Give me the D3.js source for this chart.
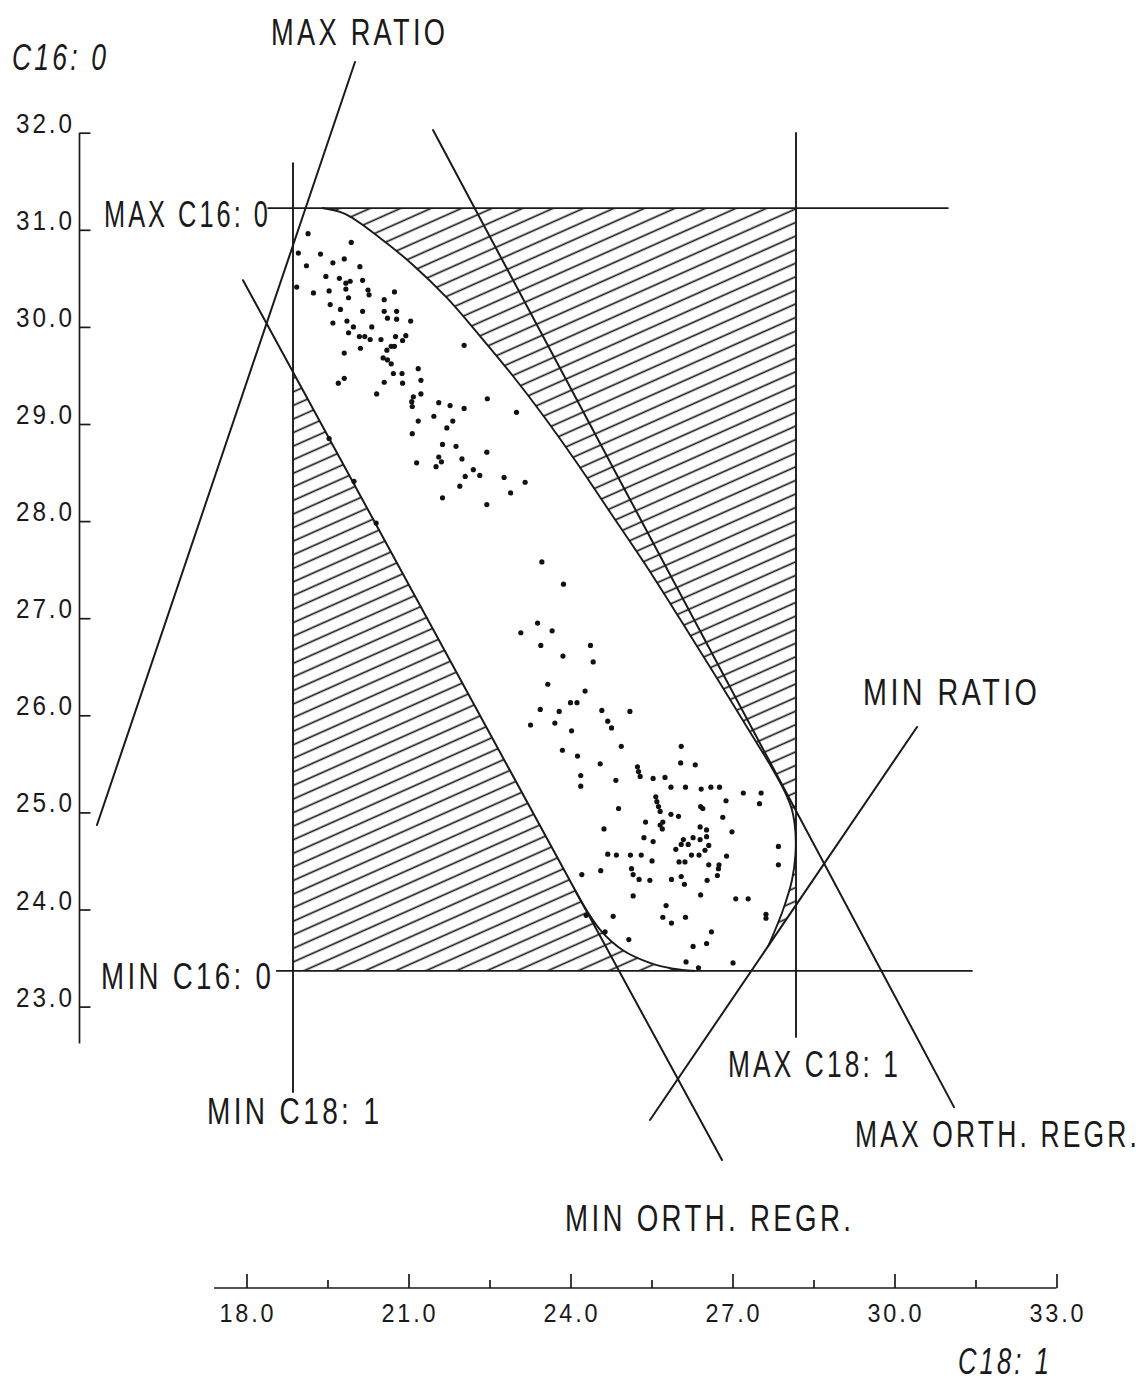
<!DOCTYPE html>
<html><head><meta charset="utf-8">
<script src="https://cdn.jsdelivr.net/npm/d3@7"></script>
<style>html,body{margin:0;padding:0;background:#fff;} svg{display:block}</style>
</head><body><svg id="chart" width="1144" height="1384"></svg>
<script>
// ---------------- DATA ----------------
const C18_TICKS = [18, 19.5, 21, 22.5, 24, 25.5, 27, 28.5, 30, 31.5, 33];
const C18_LABELS = [18, 21, 24, 27, 30, 33];
const C16_TICKS = [32, 31, 30, 29, 28, 27, 26, 25, 24, 23];

const MIN_C18 = 18.861, MAX_C18 = 28.176;
const MIN_C16 = 23.367, MAX_C16 = 31.224;

const maxRatioLine = [[15.231, 24.870], [20.009, 32.728]];
const minRatioLine = [[25.472, 21.832], [30.417, 25.880]];
const maxOrthLine  = [[21.454, 32.027], [31.102, 21.965]];
const minOrthLine  = [[17.935, 30.481], [26.806, 21.420]];

const upperBoundary = [[19.398,31.224],[19.824,31.163],[20.472,30.916],[21.083,30.638],[21.713,30.298],[22.324,29.906],[22.935,29.494],[23.528,29.062],[24.120,28.598],[24.731,28.094],[25.380,27.558],[26.028,26.992],[26.676,26.415],[27.324,25.828],[27.731,25.457],[27.972,25.210],[28.102,25.025],[28.165,24.798],[28.165,24.561],[28.102,24.304],[27.935,23.995],[27.660,23.620]];
const lowerBoundary = [[24.10,24.18],[24.55,23.79],[24.97,23.58],[25.47,23.45],[25.90,23.39],[26.31,23.367]];

const upperCluster = [[19.14,30.96],[19.94,30.87],[18.96,30.76],[19.37,30.75],[19.11,30.63],[19.60,30.66],[19.81,30.70],[20.10,30.62],[18.93,30.41],[19.47,30.52],[19.72,30.50],[19.84,30.45],[19.92,30.47],[20.15,30.48],[19.84,30.39],[19.24,30.35],[19.53,30.37],[20.25,30.38],[20.27,30.33],[19.89,30.30],[20.74,30.36],[20.55,30.28],[19.55,30.23],[19.74,30.18],[20.15,30.16],[20.55,30.16],[20.78,30.16],[20.61,30.09],[20.78,30.08],[21.04,30.06],[19.60,30.04],[19.86,30.06],[19.98,30.00],[19.89,29.94],[20.32,30.00],[20.09,29.90],[20.19,29.90],[20.29,29.87],[20.49,29.87],[20.76,29.90],[20.95,29.91],[20.89,29.86],[20.11,29.78],[20.60,29.76],[20.68,29.80],[20.74,29.80],[19.81,29.73],[20.53,29.68],[20.61,29.66],[20.68,29.62],[22.03,29.81],[21.18,29.57],[20.72,29.52],[20.88,29.52],[21.23,29.45],[19.81,29.47],[19.70,29.42],[20.55,29.43],[20.89,29.42],[20.41,29.31],[21.09,29.28],[21.23,29.31],[21.06,29.23],[21.07,29.18],[21.56,29.22],[21.77,29.19],[22.03,29.16],[22.46,29.26],[21.47,29.08],[21.82,29.03],[21.18,29.03],[23.00,29.12],[21.71,28.96],[21.07,28.90],[21.63,28.79],[21.88,28.77],[22.45,28.71],[21.56,28.66],[21.99,28.64],[21.15,28.60],[21.61,28.61],[21.51,28.56],[22.20,28.53],[22.32,28.47],[22.05,28.46],[22.77,28.45],[23.16,28.40],[21.95,28.36],[22.89,28.29],[21.63,28.24],[22.45,28.17],[19.53,28.85],[19.99,28.41],[20.40,27.98]];

const lowerCluster = [[23.47,27.58],[23.87,27.35],[23.39,26.95],[23.08,26.85],[23.66,26.87],[23.45,26.72],[24.37,26.72],[23.86,26.61],[24.42,26.55],[23.58,26.32],[24.27,26.25],[24.00,26.13],[24.12,26.13],[23.44,26.06],[23.79,26.04],[24.58,26.05],[25.10,26.04],[24.69,25.94],[24.76,25.87],[23.26,25.90],[23.71,25.92],[24.02,25.84],[24.94,25.68],[23.85,25.64],[24.13,25.58],[26.05,25.68],[26.04,25.51],[26.31,25.49],[24.55,25.50],[25.24,25.47],[25.26,25.42],[25.29,25.37],[25.53,25.35],[25.75,25.36],[24.19,25.38],[24.19,25.27],[24.84,25.33],[25.86,25.26],[26.13,25.26],[26.42,25.24],[26.60,25.26],[26.76,25.26],[27.20,25.20],[27.53,25.20],[25.58,25.16],[25.60,25.11],[26.88,25.12],[27.50,25.09],[24.89,25.04],[25.63,25.06],[26.41,25.06],[26.45,25.04],[25.66,25.01],[25.86,24.98],[26.00,24.96],[26.82,24.95],[25.39,24.90],[25.71,24.90],[25.66,24.87],[25.70,24.83],[24.62,24.83],[26.40,24.85],[26.52,24.82],[26.99,24.80],[25.36,24.74],[26.52,24.75],[26.27,24.74],[26.09,24.72],[26.05,24.67],[26.18,24.67],[26.40,24.72],[25.53,24.70],[25.95,24.62],[26.56,24.66],[26.49,24.61],[27.85,24.65],[24.69,24.57],[24.85,24.56],[25.11,24.56],[25.31,24.56],[26.24,24.56],[26.38,24.56],[26.89,24.55],[25.51,24.50],[26.01,24.49],[26.12,24.49],[26.56,24.46],[26.75,24.46],[27.85,24.46],[26.74,24.42],[25.13,24.42],[25.16,24.36],[24.21,24.36],[24.56,24.40],[25.27,24.31],[25.47,24.30],[25.87,24.31],[26.05,24.34],[26.11,24.26],[26.53,24.30],[26.72,24.35],[25.16,24.14],[26.41,24.15],[27.06,24.11],[27.29,24.11],[25.77,24.04],[25.71,23.92],[25.87,23.86],[26.13,23.92],[24.79,23.93],[27.62,23.95],[27.62,23.91],[26.61,23.77],[26.52,23.65],[26.27,23.62],[25.08,23.69],[24.64,23.77],[24.29,23.94],[26.14,23.46],[26.37,23.40],[27.01,23.45]];

// ---------------- SETUP ----------------
const svg = d3.select("#chart");
const INK = "#1a1a1a";
const FONT = "'Liberation Sans','DejaVu Sans',Arial,sans-serif";
const CAP = 0.716;

const x = d3.scaleLinear().domain([18, 33]).range([246.5, 1056.5]);
const y = d3.scaleLinear().domain([23, 32]).range([1006.6, 132.7]);

// text fitted to a given cap height and width (narrow, tall plotter lettering)
function txt(s, x0, base, cap, width, opts = {}) {
  const t = svg.append("text").text(s).attr("x", 0).attr("y", 0)
    .attr("font-family", FONT).attr("font-size", 20).attr("fill", INK)
    .attr("letter-spacing", 2.4);
  if (opts.italic) t.attr("font-style", "italic");
  const w0 = t.node().getComputedTextLength() - 2.4;
  const k = width / w0;
  t.attr("font-size", 20 * k).attr("letter-spacing", 2.4 * k);
  const sy = cap / (20 * k * CAP);
  let tx = x0;
  if (opts.anchor === "end") tx = x0 - width;
  if (opts.anchor === "middle") tx = x0 - width / 2;
  t.attr("transform", `translate(${tx},${base}) scale(1,${sy})`);
  return t;
}
function lineAtX(l, xv) { const [a, b] = l; return a[1] + (xv - a[0]) * (b[1] - a[1]) / (b[0] - a[0]); }
function lineAtY(l, yv) { const [a, b] = l; return a[0] + (yv - a[1]) * (b[0] - a[0]) / (b[1] - a[1]); }

const defs = svg.append("defs");
const pat = defs.append("pattern").attr("id", "hatch").attr("patternUnits", "userSpaceOnUse")
  .attr("width", 40).attr("height", 12.4).attr("patternTransform", "rotate(-24)");
pat.append("line").attr("x1", 0).attr("x2", 40).attr("y1", 6).attr("y2", 6)
  .attr("stroke", INK).attr("stroke-width", 1.6);

// feasible polygon (box within ratio limits)
const feasible = [
  [lineAtY(maxRatioLine, MAX_C16), MAX_C16],
  [MAX_C18, MAX_C16],
  [MAX_C18, lineAtX(minRatioLine, MAX_C18)],
  [lineAtY(minRatioLine, MIN_C16), MIN_C16],
  [MIN_C18, MIN_C16],
  [MIN_C18, lineAtX(maxRatioLine, MIN_C18)]
];
defs.append("clipPath").attr("id", "feas").append("polygon")
  .attr("points", feasible.map(d => [x(d[0]), y(d[1])].join(",")).join(" "));

svg.append("rect").attr("x", x(MIN_C18)).attr("y", y(MAX_C16))
  .attr("width", x(MAX_C18) - x(MIN_C18)).attr("height", y(MIN_C16) - y(MAX_C16))
  .attr("fill", "url(#hatch)").attr("clip-path", "url(#feas)");

// white (unhatched) region
const curveGen = d3.line().x(d => x(d[0])).y(d => y(d[1])).curve(d3.curveCatmullRom.alpha(0.5));
const ue = upperBoundary[upperBoundary.length - 1];
const le = lowerBoundary[lowerBoundary.length - 1];
const dFill = `M${x(MIN_C18 - 1)},${y(MAX_C16 + 1)}L${x(upperBoundary[0][0])},${y(MAX_C16 + 1)}`
  + curveGen(upperBoundary).replace(/^M/, "L")
  + `L${x(ue[0])},${y(MIN_C16 - 1)}L${x(le[0])},${y(MIN_C16 - 1)}`
  + curveGen(lowerBoundary.slice().reverse()).replace(/^M/, "L")
  + `L${x(minOrthLine[0][0])},${y(minOrthLine[0][1])}Z`;
svg.append("path").attr("d", dFill).attr("fill", "#fff");

// boundary curves
[upperBoundary, lowerBoundary].forEach(b => {
  svg.append("path").attr("d", curveGen(b)).attr("fill", "none")
    .attr("stroke", INK).attr("stroke-width", 1.9);
});

// box lines
const seg = (a, b, w) => svg.append("line").attr("x1", x(a[0])).attr("y1", y(a[1]))
  .attr("x2", x(b[0])).attr("y2", y(b[1])).attr("stroke", INK).attr("stroke-width", w)
  .attr("stroke-linecap", "round");
seg([MIN_C18, 31.687], [MIN_C18, 22.12], 1.9);
seg([MAX_C18, 31.997], [MAX_C18, 22.687], 1.9);
seg([18.40, MAX_C16], [30.99, MAX_C16], 1.7);
seg([18.56, MIN_C16], [31.435, MIN_C16], 1.7);

// limit lines
[maxRatioLine, minRatioLine, maxOrthLine, minOrthLine].forEach(l => seg(l[0], l[1], 2));

// points
svg.append("g").selectAll("circle").data(upperCluster.concat(lowerCluster)).join("circle")
  .attr("cx", d => x(d[0])).attr("cy", d => y(d[1])).attr("r", 2.6).attr("fill", "#111");

// y axis
const yAxisX = 79.5;
svg.append("line").attr("x1", yAxisX).attr("x2", yAxisX).attr("y1", y(32)).attr("y2", y(22.62))
  .attr("stroke", INK).attr("stroke-width", 1.7);
const yAx = svg.append("g").attr("transform", `translate(${yAxisX},0)`)
  .call(d3.axisRight(y).tickValues(C16_TICKS).tickSize(11).tickSizeOuter(0).tickFormat(""));
yAx.select(".domain").remove();
yAx.selectAll("line").attr("stroke", INK).attr("stroke-width", 1.7);
C16_TICKS.forEach(v => txt(d3.format(".1f")(v), 72, y(v), 20, 56, { anchor: "end" }));

// x axis
const xAxisY = 1288;
svg.append("line").attr("x1", x(17.4)).attr("x2", x(33)).attr("y1", xAxisY).attr("y2", xAxisY)
  .attr("stroke", INK).attr("stroke-width", 1.7);
const majorSet = new Set(C18_LABELS);
const xMinor = svg.append("g").attr("transform", `translate(0,${xAxisY})`)
  .call(d3.axisTop(x).tickValues(C18_TICKS.filter(v => !majorSet.has(v))).tickSize(8).tickSizeOuter(0).tickFormat(""));
const xMajor = svg.append("g").attr("transform", `translate(0,${xAxisY})`)
  .call(d3.axisTop(x).tickValues(C18_LABELS).tickSize(14).tickSizeOuter(0).tickFormat(""));
[xMinor, xMajor].forEach(g => { g.select(".domain").remove(); g.selectAll("line").attr("stroke", INK).attr("stroke-width", 1.7); });
C18_LABELS.forEach(v => txt(d3.format(".1f")(v), x(v), 1322, 19, 54, { anchor: "middle" }));

// labels
txt("C16: 0", 12, 70, 27, 94, { italic: true });
txt("MAX RATIO", 271, 45, 27, 174);
txt("MAX C16: 0", 104, 227, 27, 164);
txt("MIN C16: 0", 101, 989, 27, 170);
txt("MIN RATIO", 863, 705, 27, 174);
txt("MAX C18: 1", 728, 1077, 27, 170);
txt("MIN C18: 1", 207, 1124, 27, 172);
txt("MAX ORTH. REGR.", 855, 1147, 27, 282);
txt("MIN ORTH. REGR.", 565, 1231, 27, 286);
txt("C18: 1", 958, 1374, 26, 91, { italic: true });
</script></body></html>
